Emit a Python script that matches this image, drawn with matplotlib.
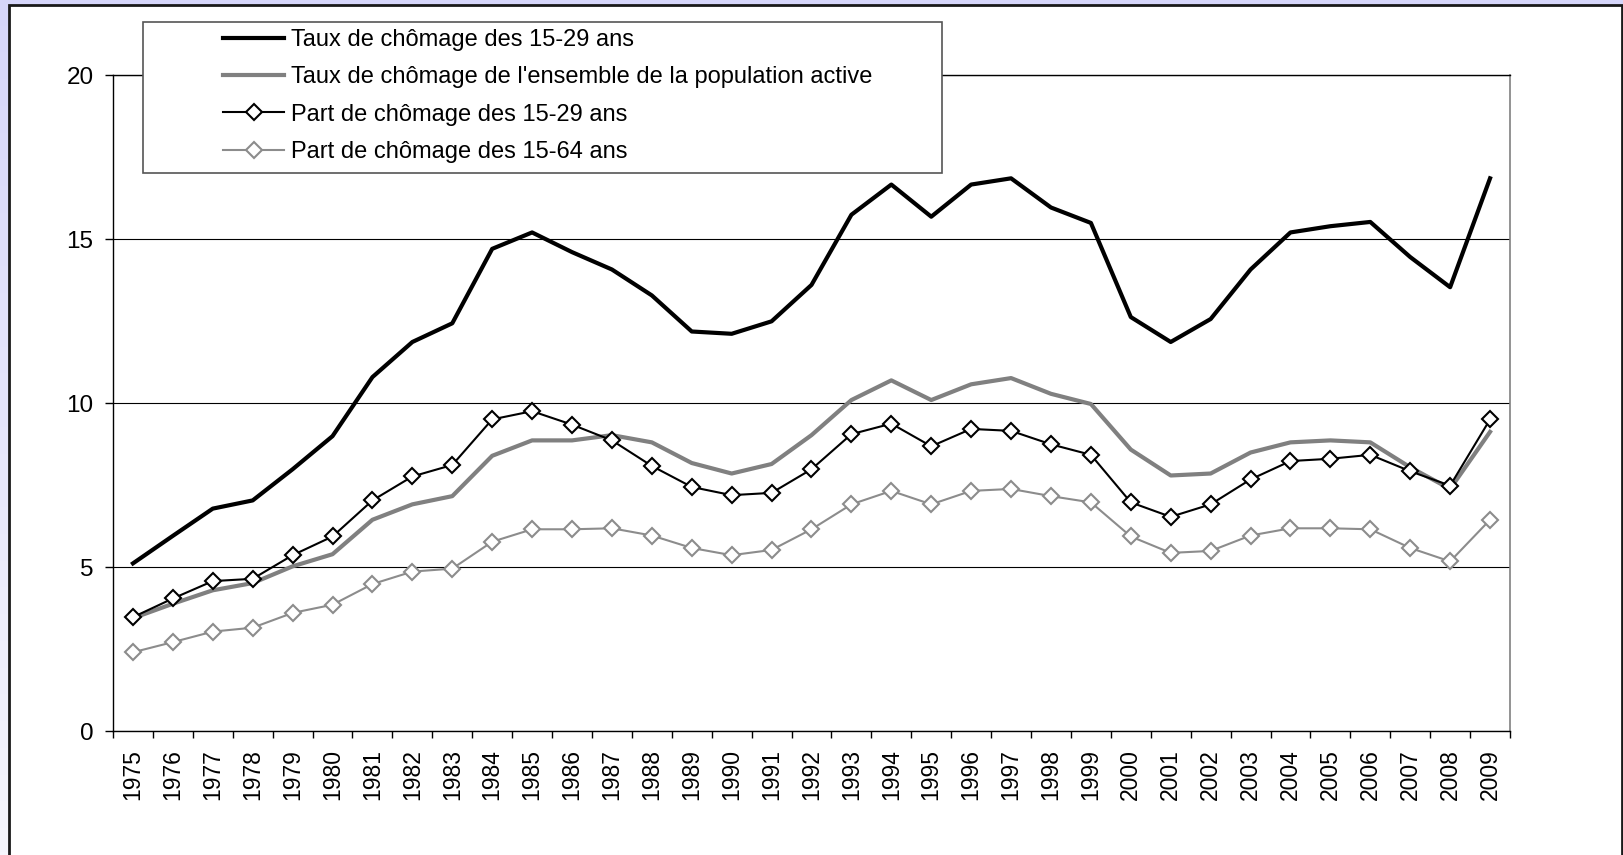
import numpy as np
import matplotlib
matplotlib.use("Agg")
import matplotlib.pyplot as plt
from matplotlib.patches import Rectangle
from matplotlib.ticker import FixedLocator

plt.rcParams['font.family'] = ['Liberation Sans', 'DejaVu Sans']

years = list(range(1975, 2010))
taux_15_29 = [5.11, 5.95, 6.78, 7.03, 7.98, 8.99, 10.79, 11.86, 12.43, 14.7,
              15.2, 14.6, 14.07, 13.28, 12.18, 12.11, 12.49, 13.6, 15.74, 16.66,
              15.68, 16.66, 16.85, 15.96, 15.49, 12.62, 11.86, 12.56, 14.07, 15.2,
              15.39, 15.52, 14.45, 13.53, 16.85]
taux_ensemble = [3.44, 3.88, 4.29, 4.51, 5.02, 5.39, 6.44, 6.91, 7.16, 8.39,
                 8.86, 8.86, 9.02, 8.8, 8.17, 7.85, 8.14, 9.02, 10.09, 10.69,
                 10.09, 10.57, 10.76, 10.28, 9.97, 8.58, 7.79, 7.85, 8.49, 8.8,
                 8.86, 8.8, 8.04, 7.38, 9.12]
part_15_29 = [3.47, 4.04, 4.57, 4.64, 5.36, 5.93, 7.03, 7.76, 8.11, 9.5,
              9.75, 9.34, 8.86, 8.08, 7.44, 7.19, 7.26, 7.98, 9.05, 9.37,
              8.68, 9.21, 9.15, 8.74, 8.42, 6.97, 6.53, 6.91, 7.67, 8.23,
              8.3, 8.42, 7.92, 7.48, 9.5]
part_15_64 = [2.4, 2.71, 3.03, 3.15, 3.6, 3.85, 4.48, 4.86, 4.95, 5.77,
              6.15, 6.15, 6.18, 5.96, 5.58, 5.36, 5.52, 6.15, 6.91, 7.32,
              6.91, 7.32, 7.38, 7.16, 6.97, 5.93, 5.43, 5.49, 5.96, 6.18,
              6.18, 6.15, 5.58, 5.17, 6.44]
labels = ["Taux de chômage des 15-29 ans",
          "Taux de chômage de l'ensemble de la population active",
          "Part de chômage des 15-29 ans",
          "Part de chômage des 15-64 ans"]
y_ticks = [0, 5, 10, 15, 20]

W, H = 1624, 855
fig = plt.figure(figsize=(W / 100, H / 100), dpi=100)

# background gradient
bg = fig.add_axes([0, 0, 1, 1])
bg.set_zorder(-20)
g = np.linspace(0, 1, 256)[:, None, None]
top = np.array([214, 214, 250]) / 255
bot = np.array([246, 246, 253]) / 255
img = top * (1 - g) + bot * g
bg.imshow(img, aspect='auto', extent=[0, 1, 0, 1], origin='upper')
bg.axis('off')

panel = Rectangle((9 / W, -0.02), (1622 - 9) / W, (855 - 5) / H + 0.02,
                  transform=fig.transFigure, facecolor='white',
                  edgecolor='#1a1a1a', lw=2, zorder=-10)
fig.add_artist(panel)

ax = fig.add_axes([113 / W, 1 - 731 / H, (1510 - 113) / W, (731 - 75) / H])
ax.set_facecolor('white')
x = np.arange(len(years))
h1, = ax.plot(x, taux_15_29, color='black', lw=3, label=labels[0], zorder=4)
h2, = ax.plot(x, taux_ensemble, color='#808080', lw=3, label=labels[1], zorder=3)
h4, = ax.plot(x, part_15_64, color='#8c8c8c', lw=1.5, marker='D', ms=8,
              mfc='white', mec='#8c8c8c', mew=1.5, label=labels[3], zorder=3)
h3, = ax.plot(x, part_15_29, color='black', lw=1.5, marker='D', ms=8,
              mfc='white', mec='black', mew=1.5, label=labels[2], zorder=5)

ax.set_xlim(-0.5, len(years) - 0.5)
ax.set_ylim(0, 20)
ax.set_yticks(y_ticks)
ax.yaxis.grid(True, color='black', lw=0.8)
ax.set_axisbelow(True)
ax.set_xticks(x)
ax.set_xticklabels([str(y) for y in years], rotation=90)
ax.xaxis.set_minor_locator(FixedLocator(np.arange(-0.5, len(years), 1)))
ax.tick_params(axis='x', which='major', length=0, pad=13, labelsize=16.5)
ax.tick_params(axis='x', which='minor', length=5, width=1, direction='out')
ax.tick_params(axis='y', length=6, width=1, pad=8, labelsize=17.5)
for s in ['left', 'bottom', 'top']:
    ax.spines[s].set_color('black')
    ax.spines[s].set_linewidth(1)
ax.spines['right'].set_color('#808080')
ax.spines['right'].set_linewidth(1.2)

legbox = Rectangle((143 / W, 1 - 173 / H), (942 - 143) / W, (173 - 22) / H,
                   transform=fig.transFigure, facecolor='white',
                   edgecolor='#555555', lw=1.2, zorder=3)
fig.add_artist(legbox)
fig.legend([h1, h2, h3, h4], labels, loc='upper left',
           bbox_to_anchor=(223 / W, 1 - 29 / H), frameon=False, fontsize=17,
           handlelength=2.6, handletextpad=0.3, labelspacing=0.65,
           borderpad=0, borderaxespad=0, numpoints=1)

fig.savefig('out.png', dpi=100)
